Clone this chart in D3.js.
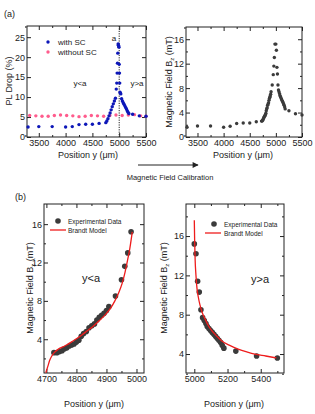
<html>
<head>
<meta charset="utf-8">
<title>PL drop and magnetic field</title>
</head>
<style>
  body { margin: 0; background: #fff; }
  text { font-family: "Liberation Sans", Arial, sans-serif; fill: #222; }
</style>
<body>
<script src="https://cdn.jsdelivr.net/npm/d3@7"></script>
<script>

// ---- data ----
var farX = [3300, 3500, 3750, 4000, 4125, 4250, 4375, 4500, 4625];
var farB = [1.6, 1.8, 1.8, 1.6, 1.75, 2.2, 2.3, 2.3, 2.5];

// y<a branch
var leftX = [4725, 4735, 4743, 4752, 4760, 4768, 4776, 4784, 4792, 4800, 4808, 4816, 4824, 4833, 4842, 4851, 4860, 4868, 4876, 4884, 4892, 4900, 4908, 4930, 4950, 4961, 4971, 4982];
var leftB = [2.6, 2.6, 2.7, 2.8, 3.0, 3.1, 3.3, 3.4, 3.5, 3.7, 3.9, 4.3, 4.6, 4.8, 5.2, 5.4, 5.6, 6.0, 6.3, 6.5, 6.7, 7.0, 7.4, 8.5, 10.2, 11.6, 13.0, 15.2];
// y>a branch
var rightX = [5000, 5010, 5020, 5030, 5040, 5050, 5060, 5070, 5078, 5088, 5098, 5108, 5118, 5128, 5138, 5148, 5158, 5168, 5178, 5250, 5375, 5500];
var rightB = [15.2, 14.2, 11.4, 10.3, 8.5, 7.7, 7.4, 7.1, 6.8, 6.6, 6.4, 6.2, 6.0, 5.8, 5.6, 5.4, 5.2, 4.9, 4.6, 4.3, 3.8, 3.6];

// Brandt model
var modelLX = [4698, 4705, 4711, 4718, 4726, 4739, 4755, 4770, 4785, 4800, 4818, 4835, 4852, 4868, 4885, 4900, 4915, 4928, 4940, 4952, 4962, 4970, 4978, 4986];
var modelLB = [0.5, 1.2, 1.8, 2.25, 2.6, 2.95, 3.2, 3.45, 3.75, 4.05, 4.45, 4.85, 5.25, 5.7, 6.2, 6.7, 7.3, 8.0, 8.8, 9.8, 11.0, 12.2, 13.5, 15.2];
var modelRX = [5000, 5002, 5005, 5010, 5016, 5024, 5034, 5048, 5064, 5084, 5104, 5134, 5164, 5210, 5264, 5320, 5364, 5430, 5494];
var modelRB = [17.6, 15.6, 13.6, 12.0, 10.7, 9.8, 9.0, 8.2, 7.6, 6.9, 6.4, 5.85, 5.35, 4.9, 4.5, 4.2, 4.0, 3.8, 3.6];

// PL drop, with SC
var plX = [3300, 3500, 3750, 4000, 4125, 4250, 4375, 4500, 4625, 4750, 4770, 4790, 4810, 4830, 4850, 4870, 4890, 4910, 4930, 4945, 4955, 4962, 4968, 4974, 4980, 4985, 4990, 4995, 5000, 5005, 5010, 5016, 5022, 5030, 5045, 5060, 5075, 5090, 5105, 5120, 5135, 5150, 5165, 5180, 5250, 5375, 5500];
var plY = [2.5, 2.6, 2.6, 2.5, 2.6, 3.1, 3.2, 3.2, 3.4, 3.6, 4.0, 4.6, 5.3, 6.0, 6.8, 7.6, 8.3, 9.0, 9.7, 12.0, 13.5, 16.0, 18.5, 21.0, 23.3, 23.0, 22.8, 22.5, 18.2, 16.0, 13.5, 11.2, 11.0, 10.8, 9.6, 9.0, 8.6, 8.2, 7.8, 7.4, 7.0, 6.6, 6.2, 5.9, 5.7, 5.3, 5.2];
// PL drop, without SC
var plNoX = [3330, 3445, 3560, 3675, 3790, 3905, 4020, 4135, 4250, 4365, 4480, 4595, 4710, 4825, 4940, 5055, 5170, 5285, 5400, 5500];
var plNoY = [5.4, 5.3, 5.2, 5.2, 5.4, 5.5, 5.4, 5.3, 5.1, 5.2, 5.4, 5.3, 5.2, 5.4, 5.5, 5.4, 5.5, 5.6, 5.3, 5.2];

var svg = d3.select("body").append("svg")
  .attr("width", 315).attr("height", 414);

var zip = function(xs, ys) { return xs.map(function(x, i) { return [x, ys[i]]; }); };

// draws frame + inward ticks on all four sides
function panel(o) {
  var x = d3.scaleLinear().domain(o.xd).range([o.x0, o.x1]);
  var y = d3.scaleLinear().domain(o.yd).range([o.y1, o.y0]);
  var g = svg.append("g");
  var mk = function(sel, axis, tr, size) {
    g.append("g").attr("transform", tr)
      .call(axis.tickSizeInner(size).tickSizeOuter(0))
      .call(function(s) { s.select(".domain").remove(); s.selectAll("line").attr("stroke", "#222"); });
  };
  var fmt = function() { return ""; };
  // major ticks with labels
  g.append("g").attr("transform", "translate(0," + o.y1 + ")")
    .call(d3.axisBottom(x).tickValues(o.xt).tickFormat(d3.format("d")).tickSize(-4).tickPadding(3))
    .call(function(s) {
      s.select(".domain").remove();
      s.selectAll("text").attr("font-size", 9).attr("fill", "#222");
      s.selectAll("line").attr("stroke", "#222");
    });
  g.append("g").attr("transform", "translate(" + o.x0 + ",0)")
    .call(d3.axisLeft(y).tickValues(o.yt).tickFormat(d3.format("d")).tickSize(-4).tickPadding(2))
    .call(function(s) {
      s.select(".domain").remove();
      s.selectAll("text").attr("font-size", 9).attr("fill", "#222");
      s.selectAll("line").attr("stroke", "#222");
    });
  mk(g, d3.axisTop(x).tickValues(o.xt).tickFormat(fmt), "translate(0," + o.y0 + ")", -4);
  mk(g, d3.axisRight(y).tickValues(o.yt).tickFormat(fmt), "translate(" + o.x1 + ",0)", -4);
  // minor ticks
  if (o.xm) {
    mk(g, d3.axisBottom(x).tickValues(o.xm).tickFormat(fmt), "translate(0," + o.y1 + ")", -2);
    mk(g, d3.axisTop(x).tickValues(o.xm).tickFormat(fmt), "translate(0," + o.y0 + ")", -2);
  }
  if (o.ym) {
    mk(g, d3.axisLeft(y).tickValues(o.ym).tickFormat(fmt), "translate(" + o.x0 + ",0)", -2);
    mk(g, d3.axisRight(y).tickValues(o.ym).tickFormat(fmt), "translate(" + o.x1 + ",0)", -2);
  }
  g.append("rect").attr("x", o.x0).attr("y", o.y0)
    .attr("width", o.x1 - o.x0).attr("height", o.y1 - o.y0)
    .attr("fill", "none").attr("stroke", "#222").attr("stroke-width", 1);
  var id = "clip" + Math.round(o.x0) + Math.round(o.y0);
  svg.append("clipPath").attr("id", id).append("rect")
    .attr("x", o.x0).attr("y", o.y0).attr("width", o.x1 - o.x0).attr("height", o.y1 - o.y0);
  return { x: x, y: y, g: g, clip: "url(#" + id + ")" };
}

function dots(p, data, r, color) {
  p.g.append("g").selectAll("circle").data(data).join("circle")
    .attr("cx", function(d) { return p.x(d[0]); })
    .attr("cy", function(d) { return p.y(d[1]); })
    .attr("r", r).attr("fill", color);
}

function bzLabel(cx, cy) {
  var t = svg.append("text").attr("transform", "translate(" + cx + "," + cy + ") rotate(-90)")
    .attr("text-anchor", "middle").attr("font-size", 9);
  t.append("tspan").text("Magnetic Field B");
  t.append("tspan").attr("font-size", 6).attr("dy", 2).text("z");
  t.append("tspan").attr("dy", -2).text(" (mT)");
}

function xLabel(cx, cy) {
  svg.append("text").attr("x", cx).attr("y", cy).attr("text-anchor", "middle")
    .attr("font-size", 9).text("Position y (\u03bcm)");
}

var blue = "#0d17b8", pink = "#ff5c8d", dark = "#3b3b3b", red = "#ee1c1c";

// ---- (a) left: PL drop ----
var aL = panel({ x0: 27, x1: 146, y0: 26, y1: 137, xd: [3280, 5500], yd: [0, 27.8],
  xt: [3500, 4000, 4500, 5000, 5500], xm: [3250, 3750, 4250, 4750, 5250],
  yt: [0, 5, 10, 15, 20, 25] });
aL.g.append("line").attr("x1", aL.x(5000)).attr("x2", aL.x(5000))
  .attr("y1", 26).attr("y2", 137).attr("stroke", "#222").attr("stroke-width", 1)
  .attr("stroke-dasharray", "1.2,1.2");
dots(aL, zip(plNoX, plNoY), 1.7, pink);
dots(aL, zip(plX, plY), 1.7, blue);
svg.append("circle").attr("cx", 48).attr("cy", 42).attr("r", 1.7).attr("fill", blue);
svg.append("text").attr("x", 58).attr("y", 45).attr("font-size", 8).text("with SC");
svg.append("circle").attr("cx", 48).attr("cy", 52).attr("r", 1.7).attr("fill", pink);
svg.append("text").attr("x", 58).attr("y", 55).attr("font-size", 8).text("without SC");
svg.append("text").attr("x", 114).attr("y", 41).attr("font-size", 8).attr("text-anchor", "middle").text("a");
svg.append("text").attr("x", 80).attr("y", 86).attr("font-size", 8).attr("text-anchor", "middle").text("y<a");
svg.append("text").attr("x", 137).attr("y", 86).attr("font-size", 8).attr("text-anchor", "middle").text("y>a");
svg.append("text").attr("transform", "translate(12,81) rotate(-90)")
  .attr("text-anchor", "middle").attr("font-size", 9).text("PL Drop (%)");
xLabel(88, 158);

// ---- (a) right: magnetic field ----
var aR = panel({ x0: 186, x1: 302, y0: 27, y1: 137, xd: [3280, 5500], yd: [0, 18],
  xt: [3500, 4000, 4500, 5000, 5500], xm: [3250, 3750, 4250, 4750, 5250],
  yt: [0, 4, 8, 12, 16], ym: [2, 6, 10, 14] });
dots(aR, zip(farX.concat(leftX, rightX), farB.concat(leftB, rightB)), 1.7, dark);
bzLabel(172, 82);
xLabel(243, 158);

// arrow
svg.append("defs").append("marker").attr("id", "arr").attr("viewBox", "0 0 10 10")
  .attr("refX", 9).attr("refY", 5).attr("markerWidth", 8).attr("markerHeight", 6)
  .attr("markerUnits", "userSpaceOnUse").attr("orient", "auto")
  .append("path").attr("d", "M0,0L10,5L0,10Z").attr("fill", "#222");
svg.append("line").attr("x1", 138).attr("x2", 198).attr("y1", 165).attr("y2", 165)
  .attr("stroke", "#222").attr("stroke-width", 1).attr("marker-end", "url(#arr)");
svg.append("text").attr("x", 170).attr("y", 180).attr("text-anchor", "middle")
  .attr("font-family", "Open Sans").attr("font-size", 7.5).text("Magnetic Field Calibration");

svg.append("text").attr("x", 4).attr("y", 17).attr("font-size", 9).text("(a)");
svg.append("text").attr("x", 15).attr("y", 200).attr("font-size", 9).text("(b)");

// ---- (b) left: y<a ----
var bL = panel({ x0: 44, x1: 144, y0: 204, y1: 373, xd: [4692, 5025], yd: [0.48, 18.1],
  xt: [4700, 4800, 4900, 5000], xm: [4750, 4850, 4950],
  yt: [4, 8, 12, 16], ym: [2, 6, 10, 14] });
dots(bL, zip(leftX, leftB), 2.8, dark);
bL.g.append("path").datum(zip(modelLX, modelLB)).attr("clip-path", bL.clip)
  .attr("d", d3.line().x(function(d) { return bL.x(d[0]); }).y(function(d) { return bL.y(d[1]); }).curve(d3.curveMonotoneX))
  .attr("fill", "none").attr("stroke", red).attr("stroke-width", 1.3);
svg.append("circle").attr("cx", 58).attr("cy", 221).attr("r", 2.8).attr("fill", dark);
svg.append("text").attr("x", 68).attr("y", 224).attr("font-size", 6.5).text("Experimental Data");
svg.append("line").attr("x1", 50).attr("x2", 66).attr("y1", 230).attr("y2", 230).attr("stroke", red).attr("stroke-width", 1.3);
svg.append("text").attr("x", 68).attr("y", 232.5).attr("font-size", 6.5).text("Brandt Model");
svg.append("text").attr("x", 91).attr("y", 282).attr("font-size", 11).attr("text-anchor", "middle").text("y<a");
bzLabel(33, 288);
xLabel(94, 407);

// ---- (b) right: y>a ----
var bR = panel({ x0: 186, x1: 284, y0: 204, y1: 373, xd: [4950, 5540], yd: [2.07, 19.26],
  xt: [5000, 5200, 5400], xm: [5100, 5300, 5500],
  yt: [4, 8, 12, 16], ym: [2, 6, 10, 14, 18] });
dots(bR, zip(rightX, rightB), 2.8, dark);
bR.g.append("path").datum(zip(modelRX, modelRB)).attr("clip-path", bR.clip)
  .attr("d", d3.line().x(function(d) { return bR.x(d[0]); }).y(function(d) { return bR.y(d[1]); }).curve(d3.curveMonotoneX))
  .attr("fill", "none").attr("stroke", red).attr("stroke-width", 1.3);
svg.append("circle").attr("cx", 214).attr("cy", 224).attr("r", 2.8).attr("fill", dark);
svg.append("text").attr("x", 224).attr("y", 227).attr("font-size", 6.5).text("Experimental Data");
svg.append("line").attr("x1", 205).attr("x2", 221).attr("y1", 233).attr("y2", 233).attr("stroke", red).attr("stroke-width", 1.3);
svg.append("text").attr("x", 224).attr("y", 235.5).attr("font-size", 6.5).text("Brandt Model");
svg.append("text").attr("x", 260).attr("y", 283).attr("font-size", 11).attr("text-anchor", "middle").text("y>a");
bzLabel(167, 288);
xLabel(234, 407);

</script>
</body>
</html>
